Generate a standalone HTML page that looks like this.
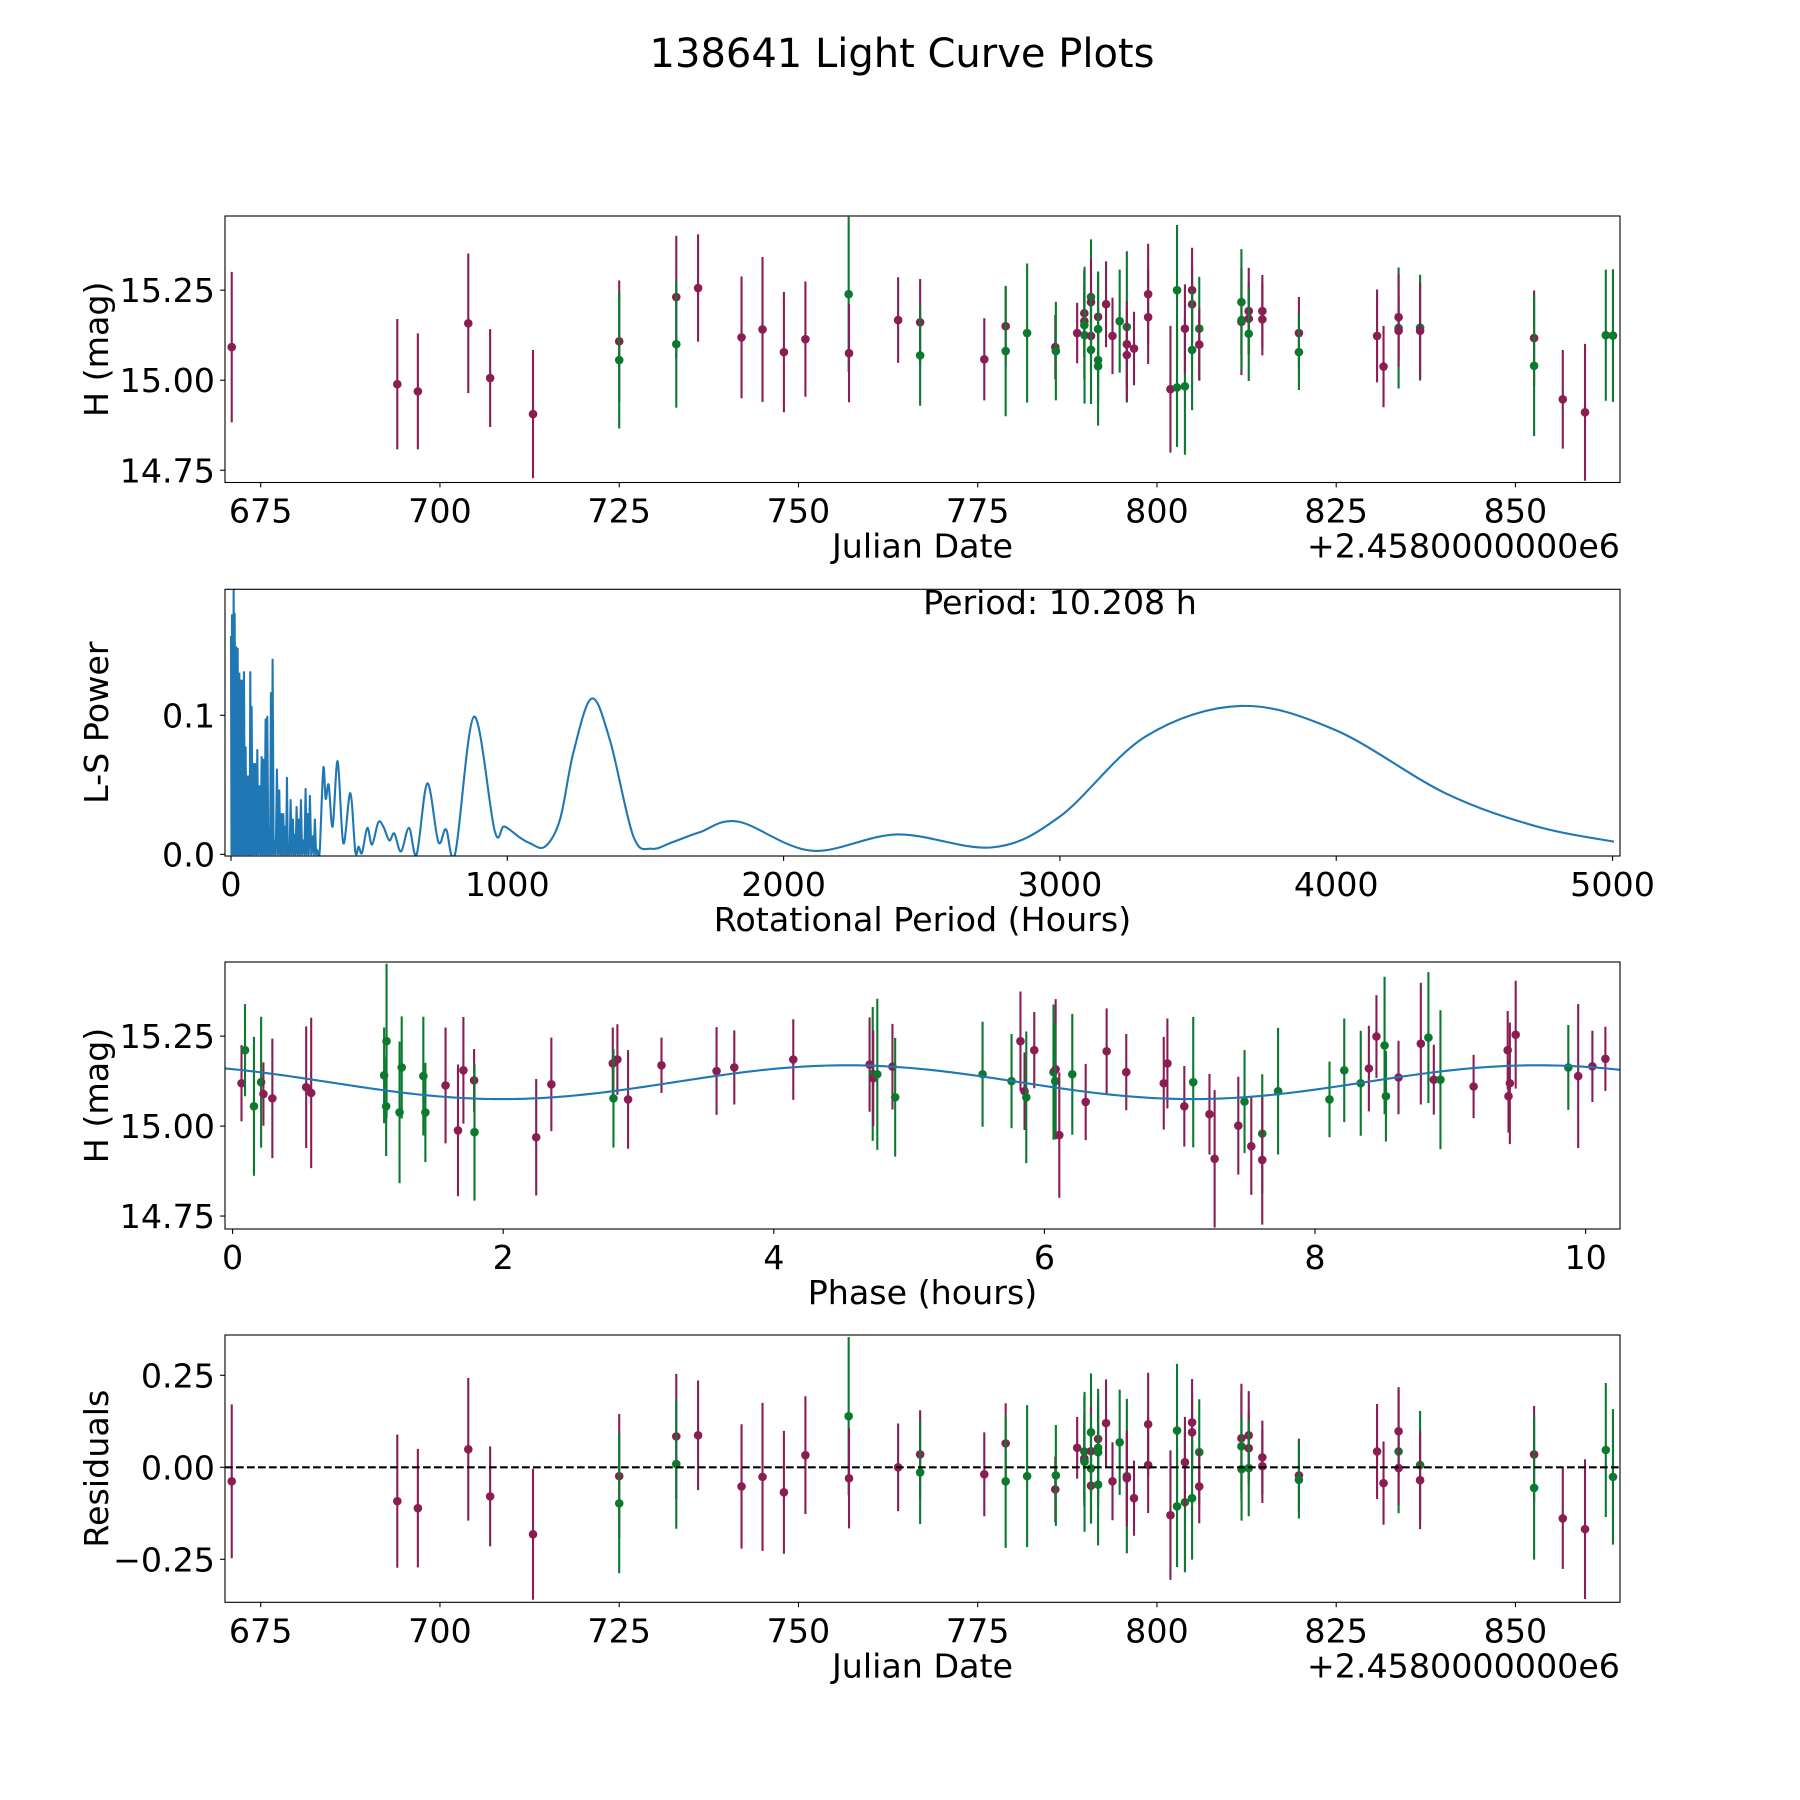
<!DOCTYPE html>
<html><head><meta charset="utf-8"><title>138641 Light Curve Plots</title>
<style>
html,body{margin:0;padding:0;background:#fff;}
svg{display:block;font-family:"DejaVu Sans","Liberation Sans",sans-serif;}
</style></head>
<body>
<svg id="fig" xmlns="http://www.w3.org/2000/svg" width="1800" height="1800" viewBox="0 0 1800 1800">
<rect x="0" y="0" width="1800" height="1800" fill="#fff"/>
<text x="902" y="67" font-size="40" text-anchor="middle" fill="#000">138641 Light Curve Plots</text>
</svg>
<script>
// ---- light-curve data (panel 1 & residuals) ----
const dates=[670.96,694.05,696.92,703.95,707.0,712.98,725.0,725.0,732.96,732.96,736.0,742.06,744.99,747.97,750.97,757.0,757.05,763.9,766.97,766.97,775.92,778.9,778.9,781.89,785.82,785.9,788.87,789.87,789.87,789.87,789.9,790.8,790.8,790.8,790.8,791.79,791.79,791.79,791.79,792.9,793.8,794.8,795.8,795.8,795.8,796.8,798.77,798.77,801.88,802.8,802.8,803.9,803.9,804.9,804.9,804.9,805.9,805.9,811.78,811.78,811.8,812.8,812.8,812.8,814.7,814.7,819.8,819.8,830.7,831.6,833.7,833.7,833.7,836.7,836.7,852.6,852.6,856.6,859.7,862.6,863.6];
const mags=[15.092,14.989,14.969,15.158,15.006,14.906,15.108,15.056,15.231,15.1,15.256,15.119,15.141,15.078,15.114,15.239,15.075,15.167,15.161,15.069,15.058,15.15,15.081,15.131,15.092,15.081,15.131,15.186,15.164,15.153,15.125,15.231,15.217,15.123,15.084,15.176,15.142,15.056,15.039,15.211,15.123,15.164,15.148,15.1,15.07,15.088,15.239,15.175,14.975,15.25,14.98,14.983,15.143,15.25,15.211,15.084,15.143,15.099,15.217,15.162,15.167,15.192,15.171,15.129,15.192,15.169,15.131,15.078,15.123,15.038,15.145,15.175,15.137,15.146,15.137,15.117,15.04,14.947,14.911,15.125,15.124];
const errs=[0.209,0.181,0.161,0.194,0.136,0.178,0.169,0.19,0.17,0.176,0.149,0.169,0.201,0.167,0.16,0.215,0.136,0.119,0.12,0.14,0.114,0.109,0.181,0.193,0.089,0.137,0.084,0.12,0.1,0.15,0.19,0.16,0.12,0.1,0.15,0.12,0.16,0.12,0.165,0.119,0.106,0.143,0.21,0.12,0.13,0.102,0.14,0.13,0.176,0.181,0.165,0.19,0.123,0.118,0.107,0.167,0.144,0.1,0.147,0.148,0.14,0.12,0.1,0.131,0.1,0.1,0.1,0.105,0.129,0.113,0.168,0.12,0.1,0.147,0.133,0.132,0.195,0.137,0.19,0.182,0.184];
const bands=["P","P","P","P","P","P","P","G","P","G","P","P","P","P","P","G","P","P","P","G","P","P","G","G","P","G","P","P","P","G","G","G","P","P","G","P","G","G","G","P","P","G","G","P","P","P","P","P","P","G","G","G","P","P","P","G","G","P","G","P","G","P","P","G","P","P","P","G","P","P","G","P","P","G","P","P","G","P","P","G","G"];
const resids=[-0.038,-0.092,-0.111,0.049,-0.079,-0.182,-0.024,-0.098,0.084,0.009,0.087,-0.052,-0.026,-0.068,0.033,0.139,-0.03,0.0,0.035,-0.014,-0.019,0.065,-0.038,-0.024,-0.06,-0.022,0.053,0.024,0.018,0.043,0.015,0.095,0.044,-0.05,-0.003,0.077,0.053,0.041,-0.047,0.12,-0.038,0.068,-0.024,-0.026,-0.03,-0.084,0.117,0.006,-0.13,0.1,-0.106,-0.095,0.014,0.122,0.095,-0.084,0.041,-0.052,0.057,0.079,-0.005,0.087,0.052,-0.002,0.027,0.003,-0.022,-0.034,0.043,-0.043,0.043,0.098,-0.002,0.006,-0.035,0.035,-0.056,-0.139,-0.168,0.047,-0.026];
// ---- phase-folded data ----
const phases=[0.066,0.092,0.158,0.211,0.228,0.294,0.544,0.581,1.12,1.138,1.135,1.25,1.234,1.41,1.425,1.574,1.666,1.706,1.785,1.788,2.244,2.356,2.81,2.844,2.815,2.923,3.17,3.577,3.708,4.144,4.708,4.731,4.735,4.765,4.877,4.897,5.543,5.757,5.823,5.853,5.866,5.925,6.067,6.083,6.08,6.11,6.206,6.305,6.46,6.605,6.882,6.909,7.034,7.1,7.22,7.258,7.433,7.479,7.529,7.61,7.61,7.727,8.107,8.216,8.338,8.398,8.454,8.514,8.524,8.617,8.782,8.838,8.878,8.927,9.172,9.424,9.43,9.44,9.483,9.872,9.945,10.05,10.146];
const phaseMags=[15.119,15.211,15.055,15.122,15.089,15.077,15.108,15.092,15.141,15.236,15.055,15.163,15.038,15.139,15.038,15.113,14.988,15.155,15.127,14.983,14.969,15.116,15.174,15.185,15.077,15.074,15.169,15.153,15.163,15.185,15.171,15.145,15.133,15.144,15.165,15.08,15.144,15.125,15.236,15.097,15.08,15.211,15.15,15.158,15.125,14.975,15.144,15.067,15.208,15.15,15.119,15.174,15.055,15.122,15.033,14.909,15.001,15.068,14.944,14.979,14.906,15.097,15.074,15.155,15.119,15.16,15.249,15.224,15.083,15.135,15.229,15.246,15.129,15.129,15.11,15.211,15.083,15.119,15.254,15.163,15.139,15.166,15.187];
const phaseErrs=[0.106,0.128,0.193,0.182,0.088,0.166,0.169,0.209,0.133,0.215,0.138,0.142,0.197,0.165,0.138,0.161,0.183,0.148,0.087,0.19,0.162,0.13,0.1,0.098,0.137,0.137,0.077,0.122,0.103,0.112,0.131,0.186,0.133,0.21,0.119,0.165,0.146,0.131,0.138,0.108,0.183,0.106,0.188,0.195,0.16,0.174,0.168,0.106,0.119,0.106,0.129,0.125,0.112,0.181,0.112,0.191,0.136,0.143,0.135,0.165,0.18,0.176,0.105,0.144,0.146,0.119,0.115,0.191,0.126,0.102,0.169,0.182,0.097,0.193,0.088,0.109,0.101,0.169,0.15,0.118,0.2,0.099,0.089];
const phaseBands=["P","G","G","G","P","P","P","P","G","G","G","G","G","G","G","P","P","P","P","G","P","P","P","P","G","P","P","P","P","P","P","G","P","G","P","G","G","G","P","P","G","P","G","P","G","P","G","P","P","P","P","P","P","G","P","P","P","G","P","G","P","G","G","G","G","P","P","G","G","P","P","G","P","G","P","P","P","P","P","G","P","P","P"];
// model fit parameters (sinusoid, two peaks per rotation)
const modelMean=15.122, modelAmp=0.047, modelMinPhase=1.99, modelHalfPeriod=5.104;
// ---- periodogram ----
const spikePeriods=[0,3.6,9.65,13.3,18.1,24.1,30.2,35,42.2,47,53,59.1,65.1,69.9,74.7,80.8,88,95.2,102.4,110.9,116.9,125.3,131.3,138.6,144.6,150.6,157.9,166.3,174.7,182,189.2,196.4,202.5,208.5,215.7,224.2,230.2,237.4,245.9,253.1,261.5,270,277.2,285.6,295.3,303.7,312.1];
const spikePowers=[0.157,0.172,0.190,0.173,0.149,0.148,0.130,0.125,0.125,0.131,0.077,0.056,0.056,0.131,0.106,0.065,0.065,0.075,0.049,0.070,0.068,0.097,0.099,0.019,0.116,0.140,0.010,0.061,0.046,0.029,0.029,0.020,0.055,0.006,0.039,0.025,0.014,0.034,0.025,0.039,0.010,0.047,0.029,0.042,0.013,0.025,0.003];
const smoothPeriods=[318,322,334.2,342.6,353.4,367.9,386,406.5,431.8,449.9,462,474.1,493.4,510.3,533.2,551.3,573,591.1,615.2,644.2,671.9,710.5,750.3,778,811.8,879.4,954.2,989.1,1045.8,1082,1136.3,1190.6,1238.9,1305.2,1371.6,1456,1522.4,1600.8,1697.4,1835.6,2101.6,2412,2755.4,2999.2,3309.5,3653,3996.6,4395.5,4728,5005];
const smoothPowers=[0,0.0055,0.062,0.040,0.050,0.020,0.067,0.008,0.044,0.002,0.0055,0.001,0.019,0.007,0.023,0.020,0.010,0.015,0.002,0.019,0.0,0.051,0.009,0.018,0.001,0.099,0.017,0.020,0.012,0.008,0.0055,0.025,0.073,0.112,0.082,0.013,0.004,0.009,0.016,0.0235,0.0026,0.0143,0.0050,0.0271,0.0847,0.1067,0.0894,0.0439,0.0199,0.0091];
// ---- ticks ----
const jdTicks=[675,700,725,750,775,800,825,850];
const magTicks=[15.25,15.00,14.75];
const magTickLabels=["15.25","15.00","14.75"];
const periodTicks=[0,1000,2000,3000,4000,5000];
const powerTicks=[0.0,0.1];
const powerTickLabels=["0.0","0.1"];
const phaseTicks=[0,2,4,6,8,10];
const residTicks=[0.25,0,-0.25];
const residTickLabels=["0.25","0.00","\u22120.25"];

const NS="http://www.w3.org/2000/svg";
const svg=document.getElementById('fig');
const PURPLE="#8a1e54", GREEN="#0b7a2f", BLUE="#1f77b4";
const FS=33.3;
const L=225,R=1620;
function el(tag,attrs,parent){const e=document.createElementNS(NS,tag);for(const k in attrs)e.setAttribute(k,attrs[k]);(parent||svg).appendChild(e);return e;}
function lin(d0,d1,p0,p1){return v=>p0+(v-d0)*(p1-p0)/(d1-d0);}

function panel(name,top,bot,xd,yd){
  const g=el('g',{});
  
  
  const cp=el('clipPath',{id:'clip-'+name},g);
  el('rect',{x:L,y:top,width:R-L,height:bot-top},cp);
  const plot=el('g',{'clip-path':'url(#clip-'+name+')'},g);
  
  
  return {g,plot,top,bot,x:lin(xd[0],xd[1],L,R),y:lin(yd[0],yd[1],bot,top)};
}
function frame(p){
  const r=el('rect',{x:L,y:p.top,width:R-L,height:p.bot-p.top,fill:'none',stroke:'#000','stroke-width':1.1},p.g);
  
  
}
function xticks(p,vals,labels){
  vals.forEach((v,i)=>{const X=p.x(v);
    el('line',{x1:X,x2:X,y1:p.bot,y2:p.bot+4.9,stroke:'#000','stroke-width':1.1},p.g);
    const t=el('text',{x:X,y:p.bot+40,'font-size':FS,'text-anchor':'middle'},p.g);
    t.textContent=labels?labels[i]:String(v);
    
    
  });
}
function yticks(p,vals,labels){
  vals.forEach((v,i)=>{const Y=p.y(v);
    el('line',{x1:L-4.9,x2:L,y1:Y,y2:Y,stroke:'#000','stroke-width':1.1},p.g);
    const t=el('text',{x:L-10,y:Y+12,'font-size':FS,'text-anchor':'end'},p.g);
    t.textContent=labels[i];
    
    
  });
}
function xlabel(p,txt,name){
  const t=el('text',{x:(L+R)/2,y:p.bot+75,'font-size':FS,'text-anchor':'middle'},p.g);
  t.textContent=txt;
  
  
}
function ylabel(p,txt,name){
  const cy=(p.top+p.bot)/2;
  const t=el('text',{x:0,y:0,'font-size':FS,'text-anchor':'middle',transform:'translate(108,'+cy+') rotate(-90)'},p.g);
  t.textContent=txt;
  
  
}
function offsetText(p){
  const t=el('text',{x:R,y:p.bot+75,'font-size':FS,'text-anchor':'end'},p.g);
  t.textContent='+2.4580000000e6';
  
  
}
function errPoint(p,xv,yv,ev,band){
  const c=band==="G"?GREEN:PURPLE;
  const X=p.x(xv);
  const ln=el('line',{x1:X,x2:X,y1:p.y(yv-ev),y2:p.y(yv+ev),stroke:c,'stroke-width':2.1},p.plot);
  
  
  const ci=el('circle',{cx:X,cy:p.y(yv),r:4.3,fill:c},p.plot);
  
  
}

// Panel 1
const p1=panel('light-curve-panel',216,482.5,[670.02,864.58],[14.716,15.456]);
dates.forEach((d,i)=>errPoint(p1,d,mags[i],errs[i],bands[i]));
frame(p1);xticks(p1,jdTicks);yticks(p1,magTicks,magTickLabels);
xlabel(p1,'Julian Date','x-axis-title-julian-date');ylabel(p1,'H (mag)','y-axis-title-mag');offsetText(p1);

// Panel 2
const p2=panel('periodogram-panel',589.3,856,[-21.7,5027],[-0.0012,0.1906]);
let pts=[];
spikePeriods.forEach((P,i)=>{
  pts.push([p2.x(P),p2.y(spikePowers[i])]);
  const nxt=i<spikePeriods.length-1?spikePeriods[i+1]:smoothPeriods[0];
  pts.push([p2.x((P+nxt)/2),p2.y(0)]);
});
let d='M'+pts.map(q=>q[0].toFixed(2)+','+q[1].toFixed(2)).join(' L');
const sp=smoothPeriods.map((P,i)=>[p2.x(P),p2.y(smoothPowers[i])]);
for(let i=0;i<sp.length-1;i++){
  const a=sp[Math.max(0,i-1)],b=sp[i],c=sp[i+1],e=sp[Math.min(sp.length-1,i+2)];
  const c1=[b[0]+(c[0]-a[0])/6,b[1]+(c[1]-a[1])/6],c2=[c[0]-(e[0]-b[0])/6,c[1]-(e[1]-b[1])/6];
  if(i===0)d+=' L'+b[0].toFixed(2)+','+b[1].toFixed(2);
  d+=' C'+c1[0].toFixed(2)+','+c1[1].toFixed(2)+' '+c2[0].toFixed(2)+','+c2[1].toFixed(2)+' '+c[0].toFixed(2)+','+c[1].toFixed(2);
}
const lsLine=el('path',{d:d,fill:'none',stroke:BLUE,'stroke-width':2.1,'stroke-linejoin':'round'},p2.plot);


frame(p2);xticks(p2,periodTicks);yticks(p2,powerTicks,powerTickLabels);
xlabel(p2,'Rotational Period (Hours)','x-axis-title-period');ylabel(p2,'L-S Power','y-axis-title-power');
const ptxt=el('text',{x:1060,y:614,'font-size':FS,'text-anchor':'middle'},p2.g);
ptxt.textContent='Period: 10.208 h';



// Panel 3
const p3=panel('phase-fold-panel',962,1229,[-0.056,10.254],[14.714,15.456]);
let md='';
for(let k=0;k<=300;k++){const ph=-0.06+k*(10.32/300);
  const m=modelMean-modelAmp*Math.cos(2*Math.PI*(ph-modelMinPhase)/modelHalfPeriod);
  md+=(k?' L':'M')+p3.x(ph).toFixed(2)+','+p3.y(m).toFixed(2);}
phases.forEach((ph,i)=>errPoint(p3,ph,phaseMags[i],phaseErrs[i],phaseBands[i]));
const mline=el('path',{d:md,fill:'none',stroke:BLUE,'stroke-width':2.1},p3.plot);


frame(p3);xticks(p3,phaseTicks);yticks(p3,magTicks,magTickLabels);
xlabel(p3,'Phase (hours)','x-axis-title-phase');ylabel(p3,'H (mag)','y-axis-title-mag-phase');

// Panel 4
const p4=panel('residuals-panel',1335,1602.3,[670.02,864.58],[-0.3668,0.3595]);
dates.forEach((dd,i)=>errPoint(p4,dd,resids[i],errs[i],bands[i]));
const zl=el('line',{x1:L,x2:R,y1:p4.y(0),y2:p4.y(0),stroke:'#000','stroke-width':2.1,'stroke-dasharray':'7.7,3.3'},p4.plot);


frame(p4);xticks(p4,jdTicks);yticks(p4,residTicks,residTickLabels);
xlabel(p4,'Julian Date','x-axis-title-julian-date-residuals');ylabel(p4,'Residuals','y-axis-title-residuals');offsetText(p4);
</script>
</body></html>
